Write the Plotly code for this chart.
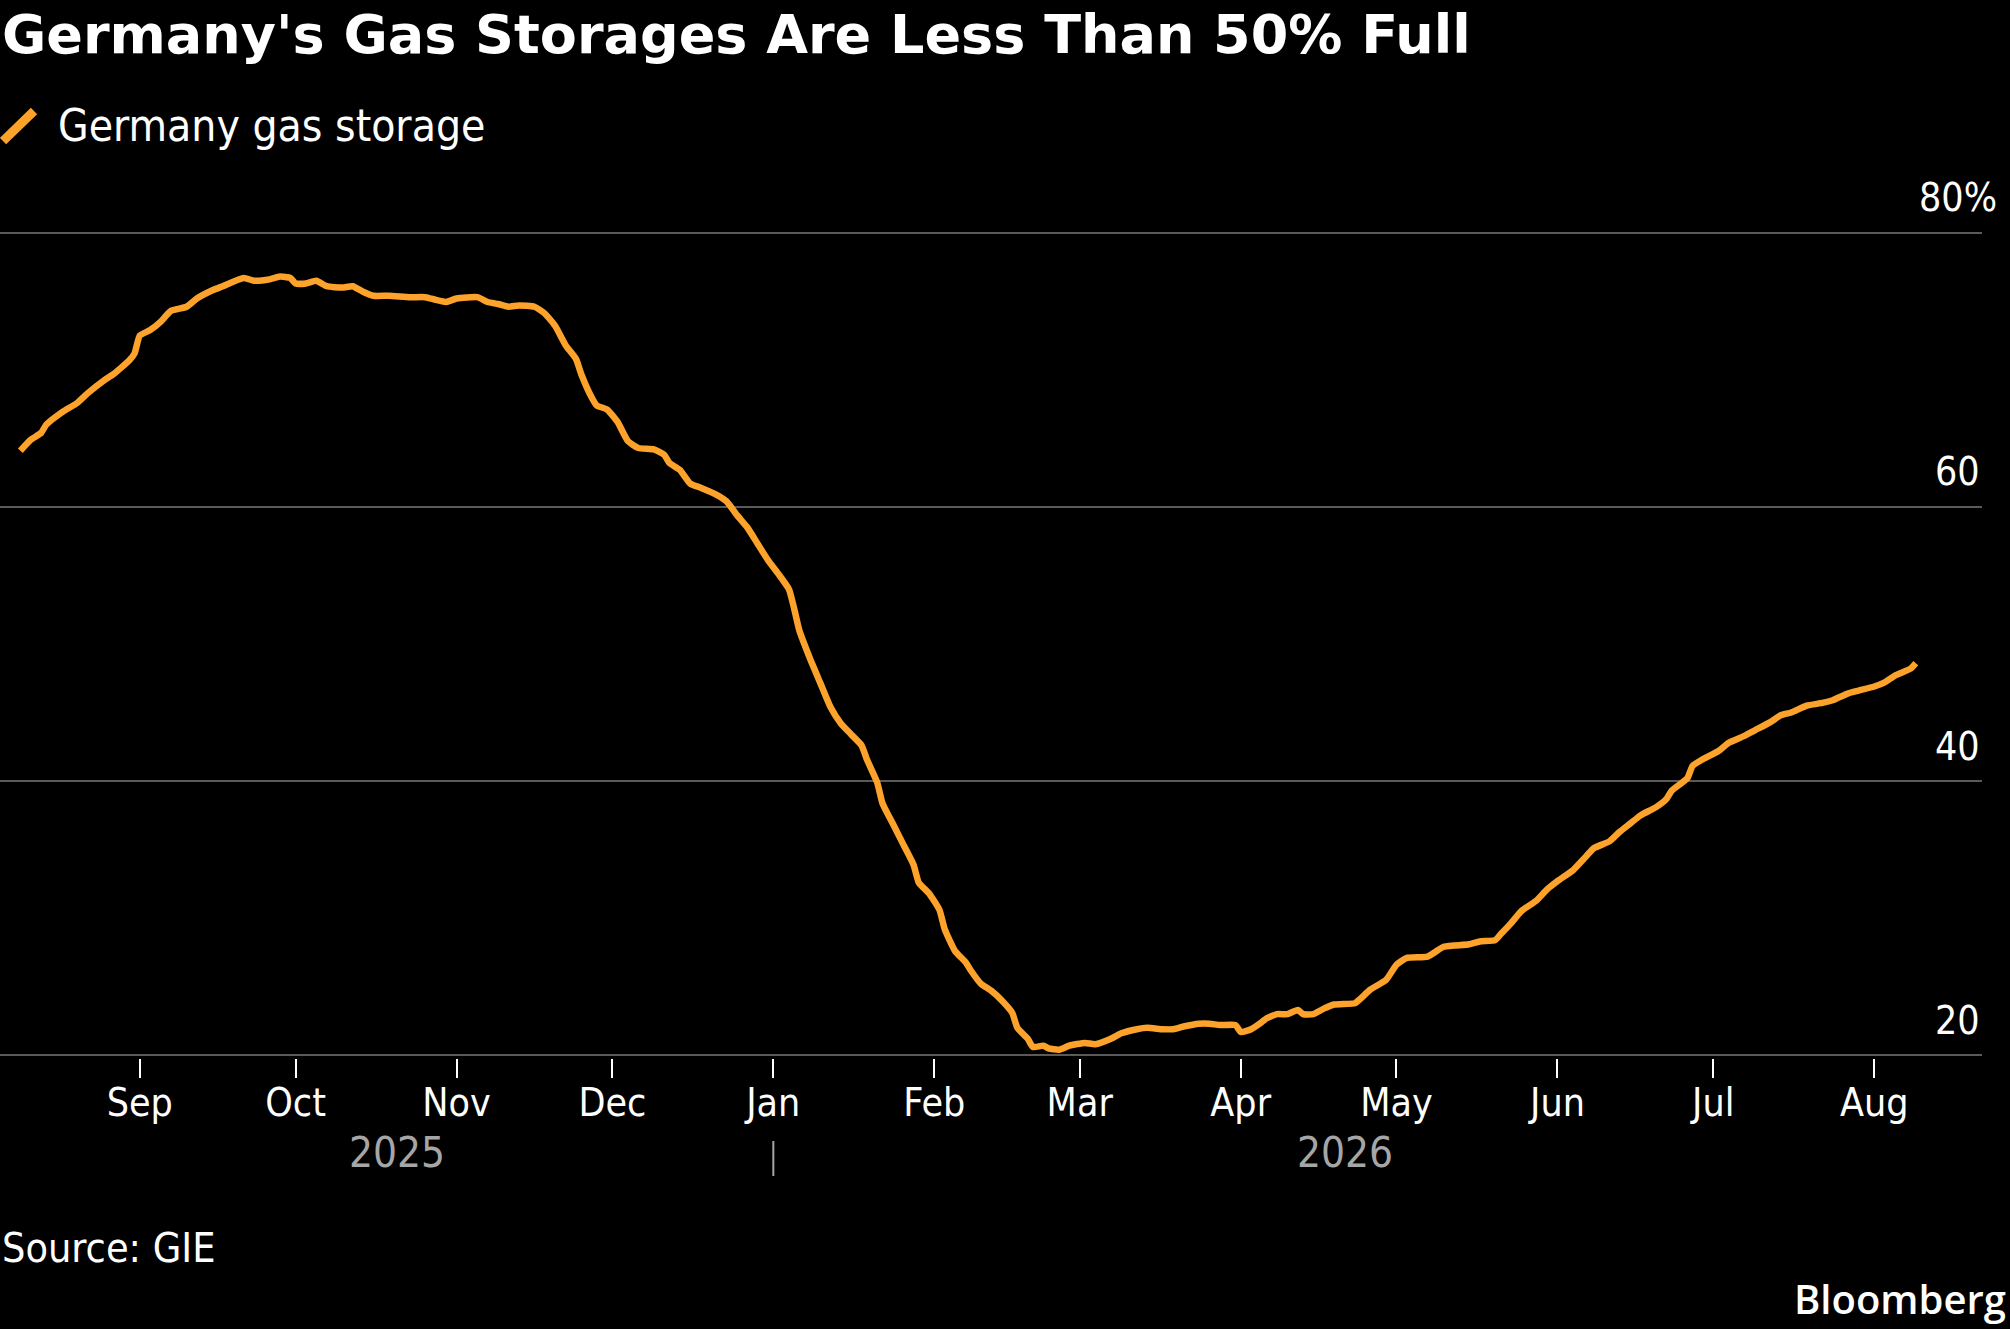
import plotly.graph_objects as go
import pandas as pd

# ---------------- data ----------------
dates = [
    "2025-08-09", "2025-08-11", "2025-08-13", "2025-08-14", "2025-08-17", "2025-08-20",
    "2025-08-22", "2025-08-25", "2025-08-27", "2025-08-30", "2025-08-31", "2025-09-01",
    "2025-09-03", "2025-09-05", "2025-09-07", "2025-09-10", "2025-09-12", "2025-09-15",
    "2025-09-17", "2025-09-21", "2025-09-23", "2025-09-26", "2025-09-28", "2025-09-30",
    "2025-10-01", "2025-10-03", "2025-10-05", "2025-10-07", "2025-10-10", "2025-10-12",
    "2025-10-14", "2025-10-16", "2025-10-19", "2025-10-23", "2025-10-26", "2025-10-28",
    "2025-10-30", "2025-11-01", "2025-11-05", "2025-11-07", "2025-11-09", "2025-11-11",
    "2025-11-13", "2025-11-16", "2025-11-18", "2025-11-20", "2025-11-22", "2025-11-24",
    "2025-11-25", "2025-11-27", "2025-11-28", "2025-11-30", "2025-12-02", "2025-12-04",
    "2025-12-06", "2025-12-09", "2025-12-11", "2025-12-12", "2025-12-14", "2025-12-16",
    "2025-12-18", "2025-12-21", "2025-12-23", "2025-12-25", "2025-12-27", "2025-12-29",
    "2025-12-31", "2026-01-02", "2026-01-04", "2026-01-05", "2026-01-06", "2026-01-08",
    "2026-01-10", "2026-01-12", "2026-01-14", "2026-01-16", "2026-01-18", "2026-01-19",
    "2026-01-21", "2026-01-22", "2026-01-24", "2026-01-26", "2026-01-28", "2026-01-29",
    "2026-01-31", "2026-02-02", "2026-02-03", "2026-02-05", "2026-02-07", "2026-02-08",
    "2026-02-10", "2026-02-12", "2026-02-14", "2026-02-16", "2026-02-17", "2026-02-19",
    "2026-02-20", "2026-02-22", "2026-02-23", "2026-02-25", "2026-02-27", "2026-03-02",
    "2026-03-04", "2026-03-07", "2026-03-09", "2026-03-12", "2026-03-14", "2026-03-17",
    "2026-03-19", "2026-03-21", "2026-03-24", "2026-03-26", "2026-03-28", "2026-03-31",
    "2026-04-01", "2026-04-03", "2026-04-05", "2026-04-06", "2026-04-08", "2026-04-10",
    "2026-04-12", "2026-04-13", "2026-04-15", "2026-04-17", "2026-04-19", "2026-04-23",
    "2026-04-24", "2026-04-26", "2026-04-29", "2026-05-01", "2026-05-03", "2026-05-07",
    "2026-05-10", "2026-05-12", "2026-05-15", "2026-05-17", "2026-05-20", "2026-05-21",
    "2026-05-23", "2026-05-25", "2026-05-28", "2026-05-30", "2026-06-01", "2026-06-04",
    "2026-06-06", "2026-06-08", "2026-06-11", "2026-06-13", "2026-06-15", "2026-06-17",
    "2026-06-20", "2026-06-22", "2026-06-23", "2026-06-26", "2026-06-27", "2026-06-29",
    "2026-07-02", "2026-07-04", "2026-07-07", "2026-07-09", "2026-07-12", "2026-07-14",
    "2026-07-16", "2026-07-19", "2026-07-22", "2026-07-24", "2026-07-27", "2026-07-29",
    "2026-08-01", "2026-08-03", "2026-08-05", "2026-08-08", "2026-08-09",
]
storage_pct = [
    64.1, 64.9, 65.4, 66.0, 66.9, 67.6,
    68.3, 69.2, 69.7, 70.7, 71.2, 72.5,
    72.9, 73.5, 74.3, 74.6, 75.2, 75.8,
    76.1, 76.7, 76.5, 76.6, 76.8, 76.7,
    76.3, 76.3, 76.5, 76.1, 76.0, 76.1,
    75.7, 75.4, 75.4, 75.3, 75.3, 75.1,
    74.95, 75.2, 75.3, 74.95, 74.8, 74.6,
    74.7, 74.6, 74.1, 73.2, 71.8, 70.8,
    69.7, 68.0, 67.4, 67.1, 66.2, 64.8,
    64.3, 64.2, 63.8, 63.2, 62.7, 61.7,
    61.4, 60.9, 60.4, 59.4, 58.5, 57.3,
    56.1, 55.1, 54.0, 52.6, 51.0, 49.0,
    47.2, 45.4, 44.2, 43.4, 42.6, 41.6,
    39.9, 38.4, 36.9, 35.4, 33.9, 32.6,
    31.8, 30.6, 29.2, 27.6, 26.8, 26.2,
    25.2, 24.7, 24.0, 23.1, 22.0, 21.2,
    20.6, 20.7, 20.5, 20.4, 20.7, 20.9,
    20.8, 21.2, 21.6, 21.9, 22.0, 21.9,
    21.9, 22.1, 22.3, 22.3, 22.2, 22.2,
    21.7, 21.9, 22.4, 22.7, 23.0, 23.0,
    23.3, 23.0, 23.0, 23.4, 23.7, 23.8,
    24.1, 24.8, 25.5, 26.6, 27.1, 27.2,
    27.9, 28.0, 28.1, 28.3, 28.4, 28.8,
    29.6, 30.5, 31.3, 32.1, 32.7, 33.5,
    34.3, 35.1, 35.6, 36.3, 36.9, 37.5,
    38.1, 38.7, 39.3, 40.2, 41.1, 41.6,
    42.2, 42.8, 43.3, 43.7, 44.3, 44.8,
    45.0, 45.5, 45.7, 45.9, 46.4, 46.6,
    46.9, 47.2, 47.7, 48.2, 48.6,
]

month_ticks = ["2025-09-01", "2025-10-01", "2025-11-01", "2025-12-01", "2026-01-01",
               "2026-02-01", "2026-03-01", "2026-04-01", "2026-05-01", "2026-06-01",
               "2026-07-01", "2026-08-01"]
month_labels = ["Sep", "Oct", "Nov", "Dec", "Jan", "Feb", "Mar", "Apr", "May", "Jun", "Jul", "Aug"]
year_labels = ["2025", "2026"]
year_break = "2026-01-01"
y_ticks = [20, 40, 60, 80]
y_tick_labels = ["20", "40", "60", "80%"]

title_text = "Germany's Gas Storages Are Less Than 50% Full"
series_name = "Germany gas storage"
source_text = "Source: GIE"

# ---------------- style ----------------
ORANGE = "#fda22a"
GRID = "#5a5a5a"
W, H = 2010, 1329
M_L, M_R, M_T, M_B = 0, 28, 230, 271
PLOT_H = H - M_T - M_B
FONT = "DejaVu Sans Condensed, DejaVu Sans, sans-serif"


def py(pix):
    """pixel row -> paper y"""
    return (H - M_B - pix) / PLOT_H


def px(pix):
    return (pix - M_L) / (W - M_L - M_R)


fig = go.Figure()
fig.add_trace(go.Scatter(
    x=pd.to_datetime(dates), y=storage_pct, mode="lines",
    line=dict(color=ORANGE, width=6.5, shape="spline", smoothing=0.5),
    name=series_name, showlegend=False, hoverinfo="skip",
))

annotations = []
# title
annotations.append(dict(text=f"<b>{title_text}</b>", xref="paper", yref="paper",
                        x=px(0), y=py(34), xanchor="left", yanchor="middle",
                        showarrow=False,
                        font=dict(family="DejaVu Sans, sans-serif", size=54, color="white")))
# legend text
annotations.append(dict(text=series_name, xref="paper", yref="paper",
                        x=px(56), y=py(125), xanchor="left", yanchor="middle",
                        showarrow=False, font=dict(family=FONT, size=44, color="white")))
# y tick labels
for v, lab in zip(y_ticks, y_tick_labels):
    annotations.append(dict(text=lab, xref="paper", yref="y", x=1, y=v,
                            xanchor="right", yanchor="middle", yshift=35,
                            xshift=17 if "%" in lab else 0,
                            showarrow=False, font=dict(family=FONT, size=39, color="white")))
# year labels centered on their data spans
d = pd.to_datetime(dates)
yb = pd.Timestamp(year_break)
spans = [(d.min(), yb), (yb, d.max())]
for lab, (a, b) in zip(year_labels, spans):
    mid = a + (b - a) / 2
    annotations.append(dict(text=lab, xref="x", yref="paper", x=mid, y=py(1152),
                            xanchor="center", yanchor="middle", showarrow=False,
                            font=dict(family=FONT, size=42, color="#a6a6a6")))
# source
annotations.append(dict(text=source_text, xref="paper", yref="paper", x=px(0), y=py(1248),
                        xanchor="left", yanchor="middle", showarrow=False,
                        font=dict(family=FONT, size=41, color="white")))
# brand
annotations.append(dict(text="Bloomberg", xref="paper", yref="paper", x=px(2008), y=py(1298),
                        xanchor="right", yanchor="middle", showarrow=False,
                        font=dict(family="Open Sans, Noto Sans, sans-serif", size=40,
                                  weight=600, color="white")))

shapes = [
    # legend glyph
    dict(type="line", xref="paper", yref="paper", x0=px(3), y0=py(141), x1=px(34), y1=py(111),
         line=dict(color=ORANGE, width=9)),
    # year separator
    dict(type="line", xref="x", yref="paper", x0=year_break, x1=year_break,
         y0=py(1141), y1=py(1176), line=dict(color="#a6a6a6", width=2)),
]

fig.update_layout(
    width=W, height=H,
    margin=dict(l=M_L, r=M_R, t=M_T, b=M_B),
    paper_bgcolor="black", plot_bgcolor="black",
    showlegend=False,
    annotations=annotations, shapes=shapes,
    xaxis=dict(
        type="date", range=["2025-08-05 02:00", "2026-08-21 18:00"],
        tickvals=month_ticks, ticktext=month_labels,
        showgrid=False, zeroline=False, showline=False,
        ticks="outside", ticklen=19, tickwidth=2, tickcolor="white",
        ticklabelstandoff=-9,
        tickfont=dict(family=FONT, size=39, color="white"),
        fixedrange=True,
    ),
    yaxis=dict(
        range=[19.8, 80.2], tickvals=y_ticks, showticklabels=False,
        showgrid=True, gridcolor=GRID, gridwidth=2, zeroline=False, showline=False,
        ticks="", fixedrange=True,
    ),
)

post = ("document.documentElement.style.margin='0';document.body.style.margin='0';"
        "document.body.style.padding='0';document.body.style.background='black';"
        "document.body.style.overflow='hidden';")
fig.write_html("out.html", config={"displayModeBar": False}, post_script=post)
